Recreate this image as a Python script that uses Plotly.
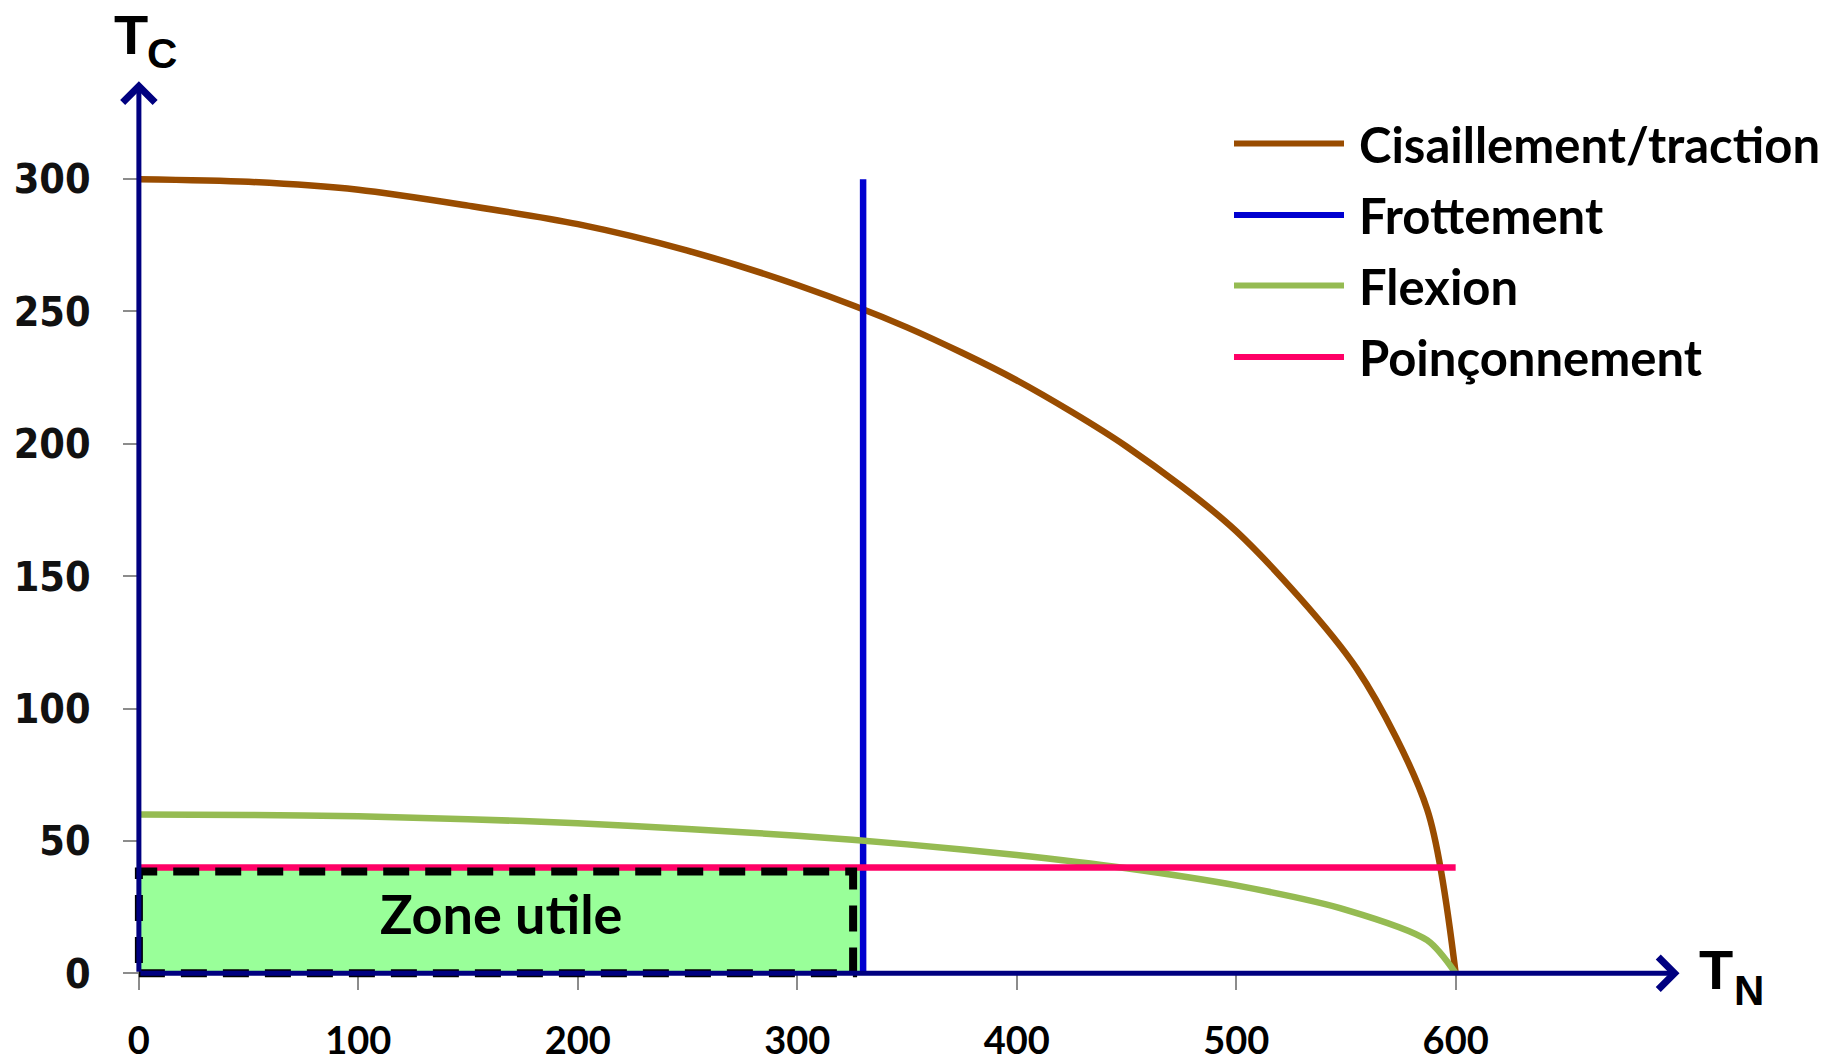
import plotly.graph_objects as go

# ---- data: limit curves in the (T_N, T_C) plane ----
tn_cisaillement = [0, 50, 100, 150, 200, 250, 300, 350, 400, 450, 500, 555, 587, 600]
tc_cisaillement = [300, 299, 296, 290, 283, 273, 260, 244, 224, 199, 167, 115, 62, 0]

tn_frottement = [330, 330]
tc_frottement = [0, 300]

tn_flexion = [0, 50, 100, 150, 200, 250, 300, 350, 400, 450, 500, 550, 587, 600]
tc_flexion = [60, 59.8, 59.3, 58.2, 56.7, 54.5, 52, 48.7, 44.7, 39.7, 33.2, 24, 12.5, 0]

tn_poinconnement = [0, 600]
tc_poinconnement = [40, 40]

series_names = ["Cisaillement/traction", "Frottement", "Flexion", "Poinçonnement"]
series_colors = ["#994C00", "#0000D0", "#95BB52", "#FF0066"]

x_ticks = [0, 100, 200, 300, 400, 500, 600]
y_ticks = [0, 50, 100, 150, 200, 250, 300]

# axis extents (arrow tips)
x_axis_end = 702
y_axis_end = 337

# ---- figure geometry ----
W, H = 1840, 1061
ML, MR, MT, MB = 95, 121, 60, 48
X_RANGE = [-20, 720]
Y_RANGE = [-15, 345]
PW, PH = W - ML - MR, H - MT - MB


def px(xp):
    """pixel column -> paper x"""
    return (xp - ML) / PW


def py(yp):
    """pixel row -> paper y"""
    return 1 - (yp - MT) / PH


ux = PW / (X_RANGE[1] - X_RANGE[0])   # pixels per T_N unit
uy = PH / (Y_RANGE[1] - Y_RANGE[0])   # pixels per T_C unit

CALIBRI_LIKE = "Lato, 'Open Sans', sans-serif"
NAVY = "#000080"

fig = go.Figure()

curves = [
    (tn_cisaillement, tc_cisaillement, "spline"),
    (tn_frottement, tc_frottement, "linear"),
    (tn_flexion, tc_flexion, "spline"),
    (tn_poinconnement, tc_poinconnement, "linear"),
]
for (xs, ys, shape), name, color in zip(curves, series_names, series_colors):
    fig.add_trace(go.Scatter(
        x=xs, y=ys, mode="lines", name=name,
        line=dict(color=color, width=6.5, shape=shape, smoothing=0.8),
        showlegend=False, hoverinfo="skip",
    ))

# useful zone: bounded by friction (T_N) and punching (T_C)
zone_x1 = tn_frottement[0]
zone_y1 = tc_poinconnement[0]
fig.add_shape(type="rect", xref="x", yref="y", x0=0, y0=0, x1=zone_x1, y1=zone_y1,
              fillcolor="#99FF99", line=dict(width=0), layer="below")
inset_x = 10 / ux
inset_y = 4 / uy
fig.add_shape(type="rect", xref="x", yref="y",
              x0=0, y0=0, x1=zone_x1 - inset_x, y1=zone_y1 - inset_y,
              fillcolor="rgba(0,0,0,0)",
              line=dict(color="black", width=8, dash="26px,16px"), layer="above")
fig.add_annotation(x=zone_x1 / 2, y=zone_y1 / 2, xref="x", yref="y",
                   text="<b>Zone utile</b>", showarrow=False,
                   xanchor="center", yanchor="middle", yshift=7,
                   font=dict(family=CALIBRI_LIKE, size=54, color="black"))

# axis lines with open arrowheads
for tip_x, tip_y in [(x_axis_end, 0), (0, y_axis_end)]:
    fig.add_annotation(x=tip_x, y=tip_y, ax=0, ay=0, xref="x", yref="y", axref="x", ayref="y",
                       text="", showarrow=True, arrowhead=4, arrowsize=1.25, arrowwidth=5,
                       arrowcolor=NAVY, standoff=0, startstandoff=0)

# axis titles T_C and T_N
AX_FONT = "'Liberation Sans', Arial, sans-serif"
axis_titles = [
    ("T", 131, 34, 56), ("C", 162, 54, 42),
    ("T", 1716, 969, 56), ("N", 1749, 990, 42),
]
for txt, xp, yp, size in axis_titles:
    fig.add_annotation(x=px(xp), y=py(yp), xref="paper", yref="paper", text="<b>" + txt + "</b>",
                       showarrow=False, xanchor="center", yanchor="middle",
                       font=dict(family=AX_FONT, size=size, color="black"))

# legend drawn as line samples + labels
legend_rows = [143.5, 215, 285.5, 357]
for name, color, yrow in zip(series_names, series_colors, legend_rows):
    fig.add_shape(type="line", xref="paper", yref="paper",
                  x0=px(1234), x1=px(1344), y0=py(yrow), y1=py(yrow),
                  line=dict(color=color, width=6))
    fig.add_annotation(x=px(1357), y=py(yrow), xref="paper", yref="paper",
                       text="<b>" + name + "</b>", showarrow=False,
                       xanchor="left", yanchor="middle",
                       font=dict(family=CALIBRI_LIKE, size=49, color="black"))

fig.update_layout(
    width=W, height=H,
    margin=dict(l=ML, r=MR, t=MT, b=MB, autoexpand=False),
    paper_bgcolor="white", plot_bgcolor="white",
    showlegend=False,
    xaxis=dict(
        range=X_RANGE, anchor="free", automargin=False,
        position=(0 - Y_RANGE[0]) / (Y_RANGE[1] - Y_RANGE[0]),
        tickvals=x_ticks, ticktext=[str(v) for v in x_ticks],
        showgrid=False, zeroline=False, showline=False,
        ticks="outside", ticklen=16, tickwidth=2, tickcolor="#8c8c8c",
        ticklabelstandoff=18,
        tickfont=dict(family=CALIBRI_LIKE, size=38, color="black", weight="bold"),
    ),
    yaxis=dict(
        range=Y_RANGE, anchor="free", automargin=False,
        position=(0 - X_RANGE[0]) / (X_RANGE[1] - X_RANGE[0]),
        tickvals=y_ticks, ticktext=[str(v) for v in y_ticks],
        showgrid=False, zeroline=False, showline=False,
        ticks="outside", ticklen=16, tickwidth=2, tickcolor="#8c8c8c",
        ticklabelstandoff=24,
        tickfont=dict(family="'DejaVu Sans Condensed', 'DejaVu Sans', sans-serif",
                      size=41, color="#111111", weight="bold"),
    ),
)

fig.write_html("out.html")
